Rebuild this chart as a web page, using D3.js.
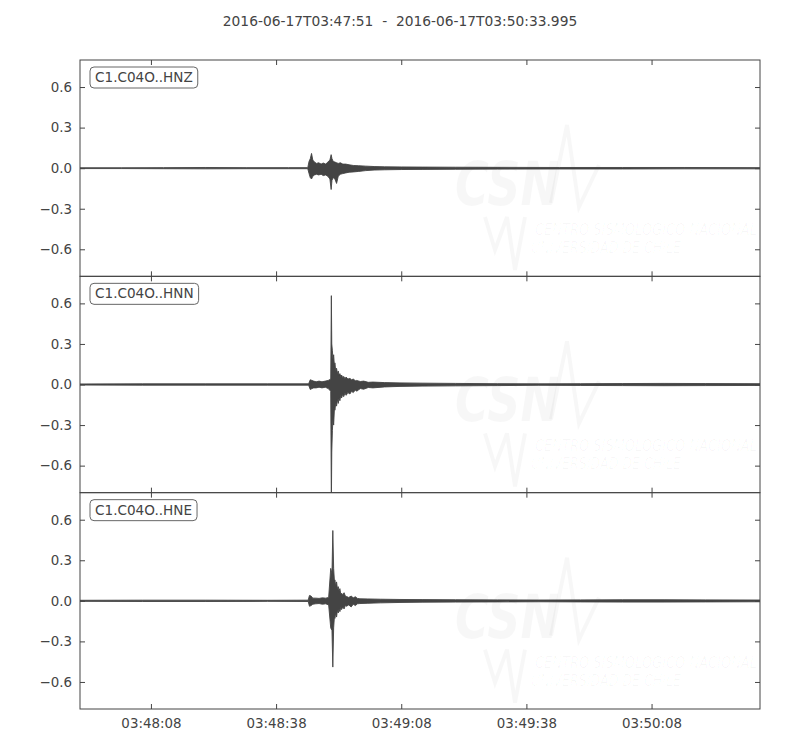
<!DOCTYPE html>
<html>
<head>
<meta charset="utf-8">
<script src="https://cdn.jsdelivr.net/npm/d3@7"></script>
<style>
  body { margin: 0; background: #fff; }
  svg { font-family: "DejaVu Sans", sans-serif; }
  .title { white-space: pre; }
</style>
</head>
<body>
<svg id="chart" width="800" height="750"></svg>
<script>
// start of the trace window and its length in seconds
const startTime = Date.UTC(2016, 5, 17, 3, 47, 51);
const duration = 162.995;
const titleText = '2016-06-17T03:47:51  -  2016-06-17T03:50:33.995';

const channels = ['C1.C04O..HNZ', 'C1.C04O..HNN', 'C1.C04O..HNE'];

const xTickLabels = ['03:48:08', '03:48:38', '03:49:08', '03:49:38', '03:50:08'];
const yTicks = [-0.6, -0.3, 0.0, 0.3, 0.6];

// envelope of each trace (seconds after start, upper / lower amplitude)
const hnzTime  = [0, 10, 20, 30, 40, 50, 54.6, 54.9, 55.2, 55.5, 55.8, 56.2, 56.7, 57.2, 57.8, 58.3, 58.9, 59.4, 59.9, 60.2, 60.4, 60.7, 61.1, 61.5, 61.9, 62.4, 63.0, 63.7, 64.5, 65.5, 66.8, 68.5, 70.5, 73, 77, 82, 90, 100, 115, 130, 145, 163];
const hnzUpper = [.003, .003, .004, .005, .004, .004, .004, .05, .07, .109, .06, .045, .035, .04, .03, .038, .03, .045, .06, .10, .07, .05, .045, .04, .035, .04, .03, .03, .025, .02, .018, .015, .012, .01, .009, .008, .007, .006, .005, .005, .005, .004];
const hnzLower = [-.003, -.003, -.004, -.005, -.004, -.004, -.004, -.04, -.07, -.08, -.06, -.05, -.045, -.05, -.045, -.055, -.05, -.06, -.08, -.158, -.09, -.07, -.08, -.113, -.06, -.045, -.04, -.035, -.03, -.028, -.024, -.018, -.014, -.012, -.01, -.009, -.008, -.007, -.006, -.006, -.005, -.005];

const hnnTime  = [0, 15, 30, 45, 54.8, 55.2, 55.6, 56.0, 56.6, 57.3, 58.0, 58.8, 59.5, 60.1, 60.25, 60.35, 60.5, 60.65, 60.8, 61.0, 61.1, 61.3, 61.5, 61.7, 61.9, 62.1, 62.3, 62.5, 62.7, 63.0, 63.2, 63.5, 63.8, 64.2, 64.7, 65.1, 65.5, 66.0, 66.3, 67.2, 68, 69.1, 70.2, 73, 76.7, 82, 90, 100, 110, 120, 130, 140, 150, 163];
const hnnUpper = [.004, .005, .005, .005, .005, .035, .03, .025, .02, .025, .02, .025, .03, .04, .657, .30, .25, .18, .22, .13, .16, .10, .12, .08, .10, .07, .08, .06, .07, .05, .06, .045, .055, .04, .045, .035, .04, .028, .03, .022, .025, .016, .018, .014, .012, .01, .008, .006, .005, .006, .007, .008, .007, .006];
const hnnLower = [-.004, -.005, -.005, -.005, -.005, -.037, -.03, -.025, -.025, -.02, -.025, -.02, -.03, -.05, -.9, -.5, -.34, -.25, -.3, -.17, -.19, -.14, -.16, -.11, -.14, -.10, -.12, -.08, -.10, -.07, -.09, -.065, -.08, -.06, -.07, -.05, -.06, -.04, -.05, -.03, -.035, -.022, -.025, -.018, -.014, -.012, -.01, -.008, -.006, -.007, -.008, -.009, -.008, -.007];

const hneTime  = [0, 15, 30, 45, 54.7, 55.0, 55.4, 55.8, 56.5, 57.3, 58.1, 58.9, 59.6, 60.1, 60.4, 60.6, 60.8, 61.0, 61.1, 61.3, 61.5, 61.7, 61.9, 62.1, 62.3, 62.5, 62.7, 63.0, 63.3, 63.6, 63.9, 64.4, 65.0, 65.5, 66.0, 66.5, 67.1, 69, 72, 76.7, 82, 90, 100, 110, 120, 130, 140, 150, 163];
const hneUpper = [.004, .005, .005, .004, .005, .04, .035, .02, .02, .018, .022, .02, .025, .24, .2, .52, .24, .14, .155, .11, .14, .09, .105, .075, .09, .05, .057, .045, .06, .035, .032, .025, .035, .022, .03, .018, .015, .014, .012, .01, .009, .008, .007, .006, .007, .008, .008, .007, .006];
const hneLower = [-.004, -.005, -.005, -.004, -.005, -.04, -.035, -.025, -.022, -.02, -.025, -.022, -.03, -.2, -.22, -.49, -.2, -.11, -.13, -.09, -.12, -.07, -.09, -.06, -.08, -.05, -.065, -.045, -.06, -.035, -.04, -.03, -.045, -.025, -.035, -.022, -.02, -.018, -.015, -.012, -.01, -.009, -.008, -.007, -.008, -.009, -.009, -.008, -.007];

const traces = [
  {time: hnzTime, upper: hnzUpper, lower: hnzLower},
  {time: hnnTime, upper: hnnUpper, lower: hnnLower},
  {time: hneTime, upper: hneUpper, lower: hneLower}
];

const svg = d3.select('#chart');
const margin = {left: 80, right: 40, top: 60, bottom: 41};
const width = 800 - margin.left - margin.right;
const plotHeight = 750 - margin.top - margin.bottom;
const panelHeight = plotHeight / channels.length;

const textColor = '#444';
const frameColor = '#444';
const traceColor = '#444';
const tickFont = 13.4;

const x = d3.scaleUtc()
  .domain([new Date(startTime), new Date(startTime + duration * 1000)])
  .range([margin.left, margin.left + width]);

const parseTick = d3.utcParse('%Y-%m-%d %H:%M:%S');
const xTickValues = xTickLabels.map(l => parseTick('2016-06-17 ' + l));

svg.append('text')
  .attr('class', 'title')
  .attr('x', 400)
  .attr('y', 26)
  .attr('text-anchor', 'middle')
  .attr('font-size', 13.8)
  .attr('fill', textColor)
  .text(titleText);

channels.forEach((name, i) => {
  const top = margin.top + i * panelHeight;
  const y = d3.scaleLinear().domain([-0.8, 0.8]).range([top + panelHeight, top]);
  const trace = traces[i];
  const g = svg.append('g');

  const clipId = 'clip' + i;
  svg.append('clipPath').attr('id', clipId)
    .append('rect')
    .attr('x', margin.left).attr('y', top)
    .attr('width', width).attr('height', panelHeight);

  const plot = g.append('g').attr('clip-path', `url(#${clipId})`);

  // faint CSN watermark
  const wm = plot.append('g')
    .attr('transform', `translate(${margin.left + 375},${top + 65})`)
    .attr('fill', '#000')
    .attr('fill-opacity', 0.03)
    .attr('stroke', '#000')
    .attr('stroke-opacity', 0.03);
  wm.append('text')
    .attr('x', 0).attr('y', 80)
    .attr('font-size', 60).attr('font-weight', 'bold').attr('font-style', 'italic')
    .attr('textLength', 104).attr('lengthAdjust', 'spacingAndGlyphs')
    .attr('stroke', 'none')
    .text('CSN');
  wm.append('path')
    .attr('fill', 'none').attr('stroke-width', 4)
    .attr('d', 'M96,78 L112,0 L124,82 L144,40 M30,92 L40,125 L52,92 L60,145 L70,92');
  wm.append('text')
    .attr('x', 80).attr('y', 110)
    .attr('font-size', 15).attr('font-style', 'italic').attr('stroke', 'none')
    .attr('textLength', 222).attr('lengthAdjust', 'spacingAndGlyphs')
    .text('CENTRO SISMOLÓGICO NACIONAL');
  wm.append('text')
    .attr('x', 76).attr('y', 128)
    .attr('font-size', 15).attr('font-style', 'italic').attr('stroke', 'none')
    .attr('textLength', 150).attr('lengthAdjust', 'spacingAndGlyphs')
    .text('UNIVERSIDAD DE CHILE');

  const points = trace.time.map((t, k) => ({
    date: new Date(startTime + t * 1000),
    hi: trace.upper[k],
    lo: trace.lower[k]
  }));

  const area = d3.area()
    .x(d => x(d.date))
    .y0(d => y(d.lo))
    .y1(d => y(d.hi));

  plot.append('path')
    .datum(points)
    .attr('d', area)
    .attr('fill', traceColor)
    .attr('stroke', traceColor)
    .attr('stroke-width', 0.9)
    .attr('stroke-linejoin', 'miter');

  // axes, ticks pointing inward on all four sides
  const left = d3.axisLeft(y).tickValues(yTicks).tickSizeInner(-5).tickSizeOuter(0)
    .tickPadding(8).tickFormat(d3.format('.1f'));
  const right = d3.axisRight(y).tickValues(yTicks).tickSizeInner(-5).tickSizeOuter(0)
    .tickFormat('');
  const topAxis = d3.axisTop(x).tickValues(xTickValues).tickSizeInner(-5).tickSizeOuter(0)
    .tickFormat('');
  const bottomAxis = d3.axisBottom(x).tickValues(xTickValues).tickSizeInner(-5).tickSizeOuter(0)
    .tickPadding(9).tickFormat((d, k) => i === channels.length - 1 ? xTickLabels[k] : '');

  const axes = [
    g.append('g').attr('transform', `translate(${margin.left},0)`).call(left),
    g.append('g').attr('transform', `translate(${margin.left + width},0)`).call(right),
    g.append('g').attr('transform', `translate(0,${top})`).call(topAxis),
    g.append('g').attr('transform', `translate(0,${top + panelHeight})`).call(bottomAxis)
  ];
  axes.forEach(a => {
    a.select('.domain').remove();
    a.selectAll('line').attr('stroke', frameColor);
    a.selectAll('text').attr('fill', textColor).attr('font-size', tickFont)
      .attr('font-family', '"DejaVu Sans", sans-serif');
  });

  g.append('rect')
    .attr('x', margin.left).attr('y', top)
    .attr('width', width).attr('height', panelHeight)
    .attr('fill', 'none')
    .attr('stroke', frameColor)
    .attr('stroke-width', 1);

  // channel label box
  const label = g.append('g').attr('transform', `translate(${margin.left + 10},${top + 7})`);
  const box = label.append('rect')
    .attr('rx', 4).attr('ry', 4)
    .attr('fill', '#fff')
    .attr('stroke', '#666')
    .attr('stroke-width', 1);
  const txt = label.append('text')
    .attr('x', 5).attr('y', 15)
    .attr('font-size', 13.6)
    .attr('fill', textColor)
    .text(name);
  const w = txt.node().getComputedTextLength();
  box.attr('width', w + 10).attr('height', 21);
});
</script>
</body>
</html>
